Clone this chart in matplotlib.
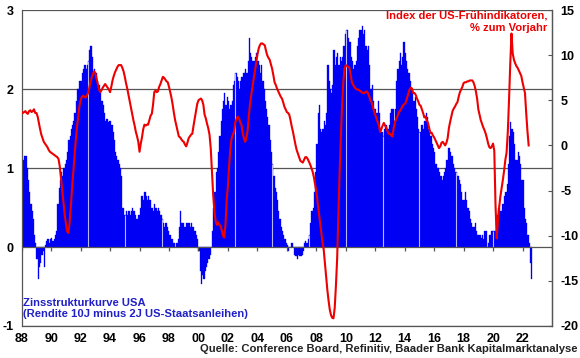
import numpy as np
import matplotlib
matplotlib.use("Agg")
import matplotlib.pyplot as plt

# ---- data: yield-curve spread 10Y-2Y (monthly, left axis) ----
spread_by_year = {
    1988: [1.05, 1.10, 1.15, 1.15, 1.00, 0.85, 0.70, 0.55, 0.45, 0.35, 0.15, 0.05],
    1989: [-0.15, -0.40, -0.25, -0.20, -0.10, -0.05, -0.25, 0.02, 0.08, 0.10, 0.05, 0.10],
    1990: [0.12, 0.08, 0.10, 0.15, 0.20, 0.55, 0.75, 0.85, 0.95, 0.90, 1.00, 1.05],
    1991: [1.10, 1.20, 1.35, 1.40, 1.50, 1.55, 1.60, 1.70, 1.85, 2.00, 2.00, 2.10],
    1992: [2.10, 2.20, 2.25, 2.30, 2.25, 2.30, 2.35, 2.50, 2.55, 2.40, 2.20, 2.25],
    1993: [2.20, 2.10, 2.00, 2.05, 1.95, 1.85, 1.80, 1.70, 1.60, 1.62, 1.58, 1.60],
    1994: [1.60, 1.55, 1.45, 1.35, 1.20, 1.15, 1.10, 1.05, 1.00, 0.90, 0.50, 0.40],
    1995: [0.40, 0.45, 0.40, 0.45, 0.40, 0.45, 0.50, 0.45, 0.40, 0.35, 0.35, 0.40],
    1996: [0.50, 0.65, 0.65, 0.60, 0.70, 0.65, 0.60, 0.65, 0.60, 0.50, 0.50, 0.45],
    1997: [0.55, 0.50, 0.45, 0.50, 0.45, 0.40, 0.35, 0.30, 0.25, 0.30, 0.25, 0.20],
    1998: [0.15, 0.15, 0.10, 0.05, 0.05, 0.00, 0.05, 0.10, 0.25, 0.45, 0.30, 0.30],
    1999: [0.25, 0.25, 0.30, 0.30, 0.30, 0.25, 0.30, 0.25, 0.20, 0.20, 0.15, 0.10],
    2000: [-0.05, -0.30, -0.47, -0.35, -0.40, -0.30, -0.25, -0.20, -0.15, -0.10, 0.00, 0.20],
    2001: [0.50, 0.70, 0.95, 1.00, 1.20, 1.40, 1.60, 1.75, 1.85, 1.95, 1.80, 1.90],
    2002: [1.85, 1.75, 1.80, 1.85, 2.05, 2.10, 2.20, 2.15, 2.10, 2.00, 2.10, 2.15],
    2003: [2.20, 2.20, 2.25, 2.20, 2.35, 2.65, 2.45, 2.40, 2.35, 2.35, 2.40, 2.45],
    2004: [2.35, 2.30, 2.20, 2.30, 2.10, 2.00, 1.85, 1.75, 1.65, 1.55, 1.35, 1.20],
    2005: [1.05, 0.90, 0.75, 0.70, 0.60, 0.45, 0.35, 0.25, 0.20, 0.15, 0.10, 0.05],
    2006: [0.02, -0.05, 0.00, 0.05, 0.05, 0.00, -0.10, -0.12, -0.15, -0.10, -0.12, -0.12],
    2007: [-0.10, -0.05, 0.05, 0.08, 0.05, 0.10, 0.15, 0.30, 0.45, 0.50, 0.70, 0.95],
    2008: [1.30, 1.70, 1.80, 1.50, 1.45, 1.50, 1.60, 1.55, 1.70, 2.30, 2.10, 2.00],
    2009: [1.95, 2.05, 2.50, 2.30, 2.40, 2.45, 2.30, 2.40, 2.35, 2.40, 2.55, 2.70],
    2010: [2.75, 2.75, 2.65, 2.60, 2.40, 2.35, 2.25, 2.30, 2.35, 2.55, 2.65, 2.75],
    2011: [2.75, 2.80, 2.70, 2.75, 2.55, 2.50, 2.55, 2.30, 2.00, 2.05, 1.85, 1.75],
    2012: [1.75, 1.70, 1.85, 1.70, 1.50, 1.45, 1.40, 1.50, 1.55, 1.55, 1.50, 1.55],
    2013: [1.70, 1.75, 1.75, 1.60, 1.75, 2.10, 2.25, 2.35, 2.45, 2.30, 2.40, 2.60],
    2014: [2.45, 2.35, 2.25, 2.20, 2.10, 2.00, 1.95, 1.85, 1.90, 1.75, 1.65, 1.50],
    2015: [1.45, 1.55, 1.55, 1.50, 1.60, 1.70, 1.65, 1.50, 1.45, 1.40, 1.30, 1.25],
    2016: [1.20, 1.05, 1.00, 1.00, 0.95, 0.90, 0.85, 0.90, 0.95, 1.00, 1.10, 1.25],
    2017: [1.25, 1.20, 1.15, 1.05, 1.00, 0.95, 0.95, 0.90, 0.85, 0.80, 0.70, 0.60],
    2018: [0.60, 0.70, 0.60, 0.50, 0.45, 0.35, 0.30, 0.25, 0.25, 0.30, 0.20, 0.15],
    2019: [0.15, 0.15, 0.12, 0.15, 0.10, 0.20, 0.20, 0.00, 0.05, 0.15, 0.20, 0.20],
    2020: [0.20, 0.20, 0.35, 0.40, 0.50, 0.50, 0.45, 0.55, 0.55, 0.65, 0.70, 0.80],
    2021: [1.05, 1.40, 1.58, 1.50, 1.45, 1.30, 1.10, 1.10, 1.20, 1.15, 1.05, 0.85],
    2022: [0.85, 0.50, 0.35, 0.30, 0.15, 0.05, -0.20, -0.40],
}

# ---- data: US leading indicators, % y/y (monthly, right axis) ----
lei_by_year = {
    1988: [3.7, 3.6, 3.7, 3.8, 3.6, 3.5, 3.8, 3.9, 3.7, 3.8, 4.0, 3.6],
    1989: [3.6, 3.2, 2.5, 1.8, 1.2, 0.8, 0.4, 0.2, 0.0, -0.2, -0.5, -0.7],
    1990: [-0.8, -0.9, -1.0, -1.1, -1.2, -1.3, -1.5, -2.3, -3.6, -5.0, -6.3, -7.6],
    1991: [-8.6, -9.5, -9.7, -8.6, -6.8, -4.8, -3.0, -1.2, 0.5, 2.0, 3.2, 4.3],
    1992: [5.0, 5.4, 5.5, 5.4, 5.3, 5.5, 5.8, 6.3, 7.0, 7.5, 7.9, 8.2],
    1993: [8.0, 7.4, 6.8, 6.2, 5.9, 6.1, 6.4, 6.6, 6.8, 6.6, 6.4, 6.2],
    1994: [5.9, 6.5, 7.2, 7.7, 8.1, 8.4, 8.7, 8.9, 8.9, 8.9, 8.6, 8.2],
    1995: [7.6, 6.9, 6.3, 5.6, 4.9, 4.2, 3.5, 2.8, 2.2, 1.5, 1.0, 0.4],
    1996: [-0.7, 0.2, 0.9, 1.8, 2.3, 2.2, 2.3, 2.3, 2.8, 3.3, 3.5, 4.5],
    1997: [5.9, 6.1, 5.9, 6.0, 6.5, 6.8, 7.2, 7.6, 7.5, 7.3, 7.1, 7.0],
    1998: [6.5, 5.9, 5.3, 4.5, 3.6, 2.8, 2.2, 1.6, 1.0, 0.9, 0.7, 0.5],
    1999: [0.4, 0.1, -0.1, 0.3, 0.8, 1.0, 1.2, 1.3, 2.2, 3.0, 3.8, 4.6],
    2000: [5.0, 5.1, 5.2, 5.0, 4.5, 3.4, 3.0, 2.4, 1.9, 1.2, -0.3, -2.8],
    2001: [-5.5, -7.3, -8.4, -8.8, -8.5, -8.8, -8.9, -9.4, -10.0, -10.2, -8.8, -6.0],
    2002: [-4.5, -2.2, -0.3, 0.8, 1.2, 1.5, 2.6, 2.9, 3.2, 3.0, 2.6, 2.3],
    2003: [1.4, 0.8, 0.4, 0.8, 1.6, 3.2, 4.6, 5.6, 6.5, 7.4, 8.2, 9.2],
    2004: [10.0, 10.7, 11.1, 11.3, 11.3, 11.2, 11.1, 10.5, 10.0, 9.7, 9.5, 9.0],
    2005: [8.5, 7.8, 7.0, 6.7, 6.3, 6.0, 5.7, 5.4, 5.2, 4.8, 4.3, 4.0],
    2006: [3.7, 3.6, 3.4, 2.8, 2.1, 1.5, 0.8, 0.1, -0.5, -0.9, -1.3, -1.7],
    2007: [-1.8, -1.9, -1.6, -1.3, -1.3, -1.5, -1.8, -2.1, -2.5, -2.9, -3.5, -4.3],
    2008: [-5.1, -6.2, -7.4, -8.4, -9.5, -10.7, -11.5, -13.0, -14.5, -16.0, -17.2, -18.2],
    2009: [-18.8, -19.1, -19.15, -18.0, -15.5, -12.5, -7.5, -3.0, 1.0, 4.5, 7.0, 8.5],
    2010: [8.9, 8.8, 8.7, 8.6, 7.8, 7.0, 6.7, 6.5, 6.3, 6.2, 6.2, 6.1],
    2011: [6.0, 5.9, 5.8, 5.8, 5.9, 6.0, 5.8, 5.5, 5.0, 4.8, 4.3, 3.8],
    2012: [3.4, 3.0, 2.6, 2.2, 1.5, 1.8, 2.2, 2.5, 2.2, 2.0, 1.6, 1.3],
    2013: [1.3, 1.1, 1.0, 1.9, 2.5, 2.9, 3.2, 3.6, 3.8, 4.0, 4.3, 4.5],
    2014: [4.6, 4.8, 5.3, 5.8, 6.2, 6.4, 6.3, 5.8, 5.8, 5.6, 5.2, 4.9],
    2015: [4.5, 4.4, 4.0, 3.6, 3.1, 3.2, 2.8, 2.5, 1.9, 1.4, 1.4, 1.1],
    2016: [0.9, 0.6, 0.3, 0.0, -0.3, -0.1, 0.3, 0.4, 0.2, 0.0, 0.3, 0.8],
    2017: [1.9, 2.6, 3.2, 3.8, 4.1, 4.3, 4.6, 4.8, 5.4, 5.9, 6.2, 6.5],
    2018: [6.9, 7.0, 7.0, 7.1, 7.1, 7.2, 7.2, 7.2, 7.0, 6.6, 6.0, 5.2],
    2019: [4.0, 3.4, 2.8, 2.4, 2.0, 1.7, 1.3, 0.8, 0.2, -0.2, -0.3, -0.1],
    2020: [0.2, -0.6, -6.6, -10.3, -8.3, -6.8, -5.6, -4.7, -3.8, -2.8, -1.6, -0.8],
    2021: [1.5, 5.0, 9.0, 12.4, 10.2, 9.5, 9.1, 8.8, 8.6, 8.3, 8.0, 7.7],
    2022: [7.0, 6.4, 5.8, 3.6, 1.6, 0.0],
}

year_ticks = list(range(1988, 2023, 2))
year_labels = [f"{y % 100:02d}" for y in year_ticks]
left_ticks = [-1, 0, 1, 2, 3]
right_ticks = [-20, -15, -10, -5, 0, 5, 10, 15]

def to_series(d):
    xs, ys = [], []
    for yr, vals in d.items():
        for m, v in enumerate(vals):
            xs.append(yr + m / 12.0)
            ys.append(v)
    return np.array(xs), np.array(ys)

sx, sy = to_series(spread_by_year)
lx, ly = to_series(lei_by_year)

FONT = "Liberation Sans"
BLUE = "#0000f5"
RED = "#ee0000"
GRID = "#555555"

fig = plt.figure(figsize=(5.8, 3.58), dpi=100)
ax = fig.add_axes([0.0374, 0.0894, 0.9143, 0.8826])

ax.bar(sx, sy, width=1 / 12, align="edge", color=BLUE, edgecolor=BLUE,
       linewidth=0.25, zorder=2)

# light streaks seen inside the bar area
for yr in np.arange(1992.5, 2022.6, 2.5):
    i = int(np.argmin(np.abs(sx - yr)))
    if sy[i] > 0:
        ax.vlines(sx[i], 0, sy[i], color="#b8b8ff", linewidth=0.8, zorder=3)

ax.set_xlim(1988, 2024)
ax.set_ylim(-1, 3)
ax.set_yticks(left_ticks)
ax.set_yticklabels([str(t) for t in left_ticks])
for t in left_ticks:
    ax.axhline(t, color=GRID, linewidth=0.9, zorder=1 if t != 0 else 4)
ax.vlines(year_ticks, -0.045, 0, color=GRID, linewidth=0.9, zorder=4)

ax.set_xticks(year_ticks)
ax.set_xticklabels(year_labels)
ax.tick_params(axis="x", length=0, pad=5)
ax.tick_params(axis="y", length=0, pad=6)
for lab in ax.get_xticklabels() + ax.get_yticklabels():
    lab.set_fontfamily(FONT)
    lab.set_fontweight("bold")
    lab.set_fontsize(9)

for s in ["top"]:
    ax.spines[s].set_visible(False)
for s in ["left", "bottom", "right"]:
    ax.spines[s].set_color(GRID)
    ax.spines[s].set_linewidth(0.9)

ax2 = ax.twinx()
ax2.plot(lx, ly, color=RED, linewidth=1.5, zorder=5)
ax2.set_ylim(-20, 15)
ax2.set_yticks(right_ticks)
ax2.set_yticklabels([str(t) for t in right_ticks])
ax2.tick_params(axis="y", direction="in", length=3, color=GRID, pad=6)
for lab in ax2.get_yticklabels():
    lab.set_fontfamily(FONT)
    lab.set_fontweight("bold")
    lab.set_fontsize(9)
for s in ["top", "left", "bottom"]:
    ax2.spines[s].set_visible(False)
ax2.spines["right"].set_color(GRID)
ax2.spines["right"].set_linewidth(0.9)

fig.text(547 / 580, 1 - 11 / 358, "Index der US-Frühindikatoren,\n% zum Vorjahr",
         color=RED, fontfamily=FONT, fontweight="bold", fontsize=8.1,
         ha="right", va="top", linespacing=1.25)
fig.text(23 / 580, 1 - 298 / 358, "Zinsstrukturkurve USA\n(Rendite 10J minus 2J US-Staatsanleihen)",
         color="#2020c8", fontfamily=FONT, fontweight="bold", fontsize=8.1,
         ha="left", va="top", linespacing=1.15)
fig.text(578 / 580, 1 - 349 / 358, "Quelle: Conference Board, Refinitiv, Baader Bank Kapitalmarktanalyse",
         color="#222222", fontfamily=FONT, fontweight="bold", fontsize=8.1,
         ha="right", va="center")

fig.savefig("out.png", dpi=100)
